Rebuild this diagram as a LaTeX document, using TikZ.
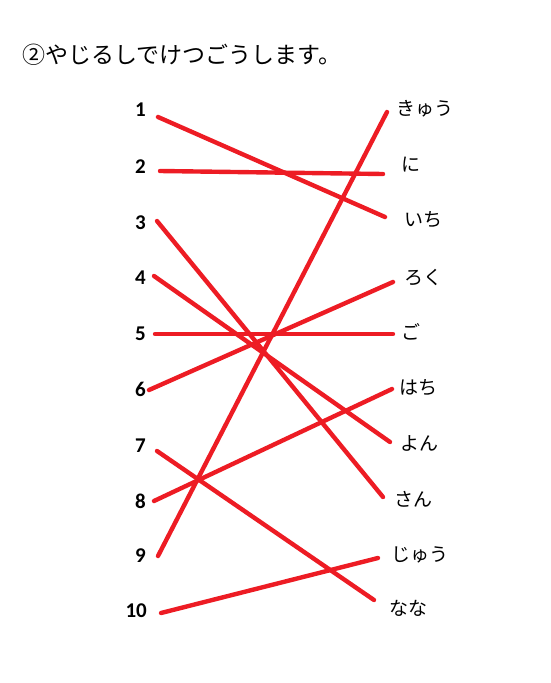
\documentclass[tikz,border=0pt]{standalone}
\usepackage{fontspec}
\setmainfont{Carlito}
\newfontfamily\jp{Noto Sans CJK JP}
\definecolor{penred}{RGB}{237,28,36}
\begin{document}
\begin{tikzpicture}[x=1pt,y=-1pt,
  num/.style={anchor=east,font=\fontsize{21}{21}\selectfont\bfseries,inner sep=0pt},
  kana/.style={anchor=west,font=\jp\fontsize{19}{19}\selectfont,inner sep=0pt},
  link/.style={draw=penred,line width=4.4pt,line cap=round}]
\useasboundingbox (0,0) rectangle (551,683);
\node[anchor=west,font=\jp\fontsize{23}{23}\selectfont,inner sep=0pt] (title) at (22,55) {②やじるしでけつごうします。};
% left numbers
\node[num] (n1) at (146,110) {1};
\node[num] (n2) at (146,167) {2};
\node[num] (n3) at (146,223) {3};
\node[num] (n4) at (146,278) {4};
\node[num] (n5) at (146,334) {5};
\node[num] (n6) at (146,389) {6};
\node[num] (n7) at (146,446) {7};
\node[num] (n8) at (146,501) {8};
\node[num] (n9) at (146,556) {9};
\node[num] (n10) at (147,611) {10};
% right labels
\node[kana] (kyuu) at (396,109) {きゅう};
\node[kana] (ni) at (401,165) {に};
\node[kana] (ichi) at (404,220) {いち};
\node[kana] (roku) at (404,277) {ろく};
\node[kana] (go) at (401,332) {ご};
\node[kana] (hachi) at (399,388) {はち};
\node[kana] (yon) at (400,443) {よん};
\node[kana] (san) at (394,499) {さん};
\node[kana] (juu) at (391,555) {じゅう};
\node[kana] (nana) at (389,608) {なな};
% endpoints
\coordinate (a1) at (158,117);
\coordinate (a2) at (160,171);
\coordinate (a3) at (157,221);
\coordinate (a4) at (154,276);
\coordinate (a5) at (155,334);
\coordinate (a6) at (149,390);
\coordinate (a7) at (157,451);
\coordinate (a8) at (154,501);
\coordinate (a9) at (158,556);
\coordinate (a10) at (161,613);
\coordinate (bkyuu) at (387,112);
\coordinate (bni) at (383,174);
\coordinate (bichi) at (385,217);
\coordinate (broku) at (393,282);
\coordinate (bgo) at (393,334);
\coordinate (bhachi) at (392,389);
\coordinate (byon) at (390,442);
\coordinate (bsan) at (383,497);
\coordinate (bjuu) at (378,558);
\coordinate (bnana) at (374,600);
% connectors
\draw[link] (a1) -- (bichi);
\draw[link] (a2) -- (bni);
\draw[link] (a3) -- (bsan);
\draw[link] (a4) -- (byon);
\draw[link] (a5) -- (bgo);
\draw[link] (a6) -- (broku);
\draw[link] (a7) -- (bnana);
\draw[link] (a8) -- (bhachi);
\draw[link] (a9) -- (bkyuu);
\draw[link] (a10) -- (bjuu);
\end{tikzpicture}
\end{document}
